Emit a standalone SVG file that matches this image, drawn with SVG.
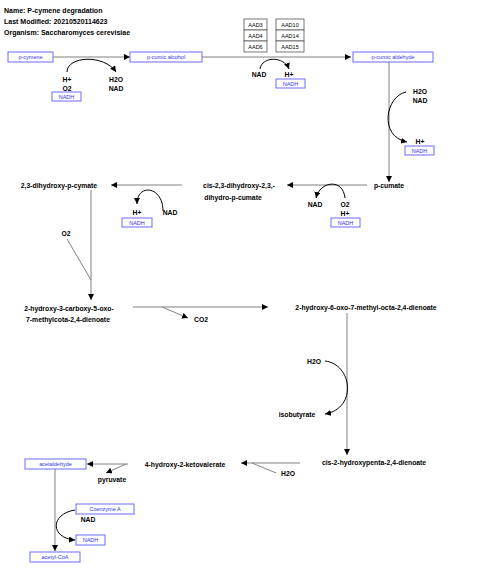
<svg xmlns="http://www.w3.org/2000/svg" width="480" height="580" viewBox="0 0 480 580">
<defs>
<marker id="ah" viewBox="0 0 10 10" refX="10" refY="5" markerWidth="6" markerHeight="6" markerUnits="userSpaceOnUse" orient="auto">
<path d="M0,0 L10,5 L0,10 z" fill="#000"/>
</marker>
<style>
.t{font-family:"Liberation Sans",Arial,sans-serif;font-size:6.8px;font-weight:bold;fill:#000;text-anchor:middle;dominant-baseline:central}
.h{font-family:"Liberation Sans",Arial,sans-serif;font-size:7px;font-weight:bold;fill:#000}
.bb{fill:#fff;stroke:#6a6aff;stroke-width:1}
.bt{font-family:"Liberation Sans",Arial,sans-serif;font-size:5.5px;fill:#3333ee;text-anchor:middle;dominant-baseline:central}
.gb{fill:#fff;stroke:#555;stroke-width:0.8}
.gt{font-family:"Liberation Sans",Arial,sans-serif;font-size:5.5px;fill:#000;text-anchor:middle;dominant-baseline:central}
.ln{fill:none;stroke:#808080;stroke-width:1}
.arc{fill:none;stroke:#000;stroke-width:1}
</style>
</defs>
<g id="header">
<text class="h" x="4" y="13">Name: P-cymene degradation</text>
<text class="h" x="4" y="24">Last Modified: 20210520114623</text>
<text class="h" x="4" y="35">Organism: Saccharomyces cerevisiae</text>
</g>
<g id="connectors">
<line class="ln" x1="53" y1="57" x2="130" y2="57" marker-end="url(#ah)"/>
<path class="arc" d="M67,72 C67,56 104,54 116,72" marker-end="url(#ah)"/>
<line class="ln" x1="202" y1="57" x2="351" y2="57" marker-end="url(#ah)"/>
<path class="arc" d="M260,69 C262,56 284,56 289,69" marker-end="url(#ah)"/>
<line class="ln" x1="389" y1="62" x2="389" y2="182" marker-end="url(#ah)"/>
<path class="arc" d="M406,92 C386,96 378,136 407,142" marker-end="url(#ah)"/>
<line class="ln" x1="367" y1="185" x2="287" y2="185" marker-end="url(#ah)"/>
<path class="arc" d="M345,198 C343,178 320,181 316,198" marker-end="url(#ah)"/>
<line class="ln" x1="182" y1="185" x2="111" y2="185" marker-end="url(#ah)"/>
<path class="arc" d="M163,211 C163,186 137,183 137,204" marker-end="url(#ah)"/>
<line class="ln" x1="91" y1="190" x2="91" y2="300" marker-end="url(#ah)"/>
<line class="ln" x1="67" y1="239" x2="91" y2="280"/>
<line class="ln" x1="133" y1="307" x2="268" y2="307" marker-end="url(#ah)"/>
<line class="ln" x1="162" y1="307" x2="188" y2="318" marker-end="url(#ah)"/>
<line class="ln" x1="347" y1="313" x2="347" y2="455" marker-end="url(#ah)"/>
<path class="arc" d="M325,361 C352,364 358,408 325,414" marker-end="url(#ah)"/>
<line class="ln" x1="300" y1="463" x2="241" y2="463" marker-end="url(#ah)"/>
<line class="ln" x1="276" y1="473" x2="252" y2="463"/>
<line class="ln" x1="128" y1="464" x2="87" y2="464" marker-end="url(#ah)"/>
<line class="ln" x1="126" y1="464" x2="106" y2="473" marker-end="url(#ah)"/>
<line class="ln" x1="55" y1="469" x2="55" y2="551" marker-end="url(#ah)"/>
<path class="arc" d="M75,510 C50,514 50,538 75,540" marker-end="url(#ah)"/>
</g>
<g id="p-cymene"><rect class="bb" x="8" y="52" width="45" height="10"/><text class="bt" x="30.5" y="57">p-cymene</text></g>
<g id="p-cumic-alcohol"><rect class="bb" x="130" y="52" width="72" height="10"/><text class="bt" x="166" y="57">p-cumic alcohol</text></g>
<g id="p-cumic-aldehyde"><rect class="bb" x="353" y="52" width="80" height="10"/><text class="bt" x="393" y="57">p-cumic aldehyde</text></g>
<g id="genes">
<rect class="gb" x="244" y="19" width="23" height="11"/><text class="gt" x="255.5" y="24.5">AAD3</text>
<rect class="gb" x="244" y="30" width="23" height="11"/><text class="gt" x="255.5" y="35.5">AAD4</text>
<rect class="gb" x="244" y="41" width="23" height="11"/><text class="gt" x="255.5" y="46.5">AAD6</text>
<rect class="gb" x="276" y="19" width="28" height="11"/><text class="gt" x="290" y="24.5">AAD10</text>
<rect class="gb" x="276" y="30" width="28" height="11"/><text class="gt" x="290" y="35.5">AAD14</text>
<rect class="gb" x="276" y="41" width="28" height="11"/><text class="gt" x="290" y="46.5">AAD15</text>
</g>
<g id="r1-side">
<text class="t" x="67" y="79">H+</text><text class="t" x="67" y="88">O2</text>
<rect class="bb" x="52" y="92" width="29" height="9"/><text class="bt" x="66.5" y="96.5">NADH</text>
<text class="t" x="116" y="79">H2O</text><text class="t" x="116" y="88">NAD</text>
</g>
<g id="r2-side">
<text class="t" x="259" y="74">NAD</text><text class="t" x="289" y="74">H+</text>
<rect class="bb" x="276" y="79" width="29" height="9"/><text class="bt" x="290.5" y="83.5">NADH</text>
</g>
<g id="r3-side">
<text class="t" x="420" y="91">H2O</text><text class="t" x="420" y="100">NAD</text>
<text class="t" x="420" y="141">H+</text>
<rect class="bb" x="405" y="146" width="29" height="9"/><text class="bt" x="419.5" y="150.5">NADH</text>
</g>
<g id="p-cumate"><text class="t" x="389" y="185">p-cumate</text></g>
<g id="r4-side">
<text class="t" x="315" y="204">NAD</text><text class="t" x="345" y="204">O2</text><text class="t" x="345" y="213">H+</text>
<rect class="bb" x="331" y="218" width="29" height="9"/><text class="bt" x="345.5" y="222.5">NADH</text>
</g>
<g id="cis-dihydrodiol"><text class="t" x="239" y="185">cis-2,3-dihydroxy-2,3,-</text><text class="t" x="233" y="197">dihydro-p-cumate</text></g>
<g id="r5-side">
<text class="t" x="137" y="212">H+</text><text class="t" x="170" y="212">NAD</text>
<rect class="bb" x="122" y="218" width="30" height="9"/><text class="bt" x="137" y="222.5">NADH</text>
</g>
<g id="dihydroxy-p-cymate"><text class="t" x="59" y="185">2,3-dihydroxy-p-cymate</text></g>
<g id="o2"><text class="t" x="66" y="233">O2</text></g>
<g id="hcomd"><text class="t" x="69" y="308">2-hydroxy-3-carboxy-5-oxo-</text><text class="t" x="68" y="319">7-methylcota-2,4-dienoate</text></g>
<g id="co2"><text class="t" x="201" y="319">CO2</text></g>
<g id="hmod"><text class="t" x="366" y="307">2-hydroxy-6-oxo-7-methyl-octa-2,4-dienoate</text></g>
<g id="r8-side"><text class="t" x="314" y="361">H2O</text><text class="t" x="297" y="414">isobutyrate</text></g>
<g id="hpd"><text class="t" x="374" y="462">cis-2-hydroxypenta-2,4-dienoate</text></g>
<g id="h2o-2"><text class="t" x="288" y="473">H2O</text></g>
<g id="hkv"><text class="t" x="185" y="464">4-hydroxy-2-ketovalerate</text></g>
<g id="pyruvate"><text class="t" x="112" y="479">pyruvate</text></g>
<g id="acetaldehyde"><rect class="bb" x="25" y="459" width="61" height="10"/><text class="bt" x="55.5" y="464">acetaldehyde</text></g>
<g id="coa"><rect class="bb" x="76" y="504" width="58" height="10"/><text class="bt" x="105" y="509">Coenzyme A</text></g>
<g id="nad-last"><text class="t" x="88" y="519">NAD</text></g>
<g id="nadh-last"><rect class="bb" x="76" y="535" width="29" height="10"/><text class="bt" x="90.5" y="540">NADH</text></g>
<g id="acetyl-coa"><rect class="bb" x="30" y="552" width="50" height="10"/><text class="bt" x="55" y="557">acetyl-CoA</text></g>
</svg>
